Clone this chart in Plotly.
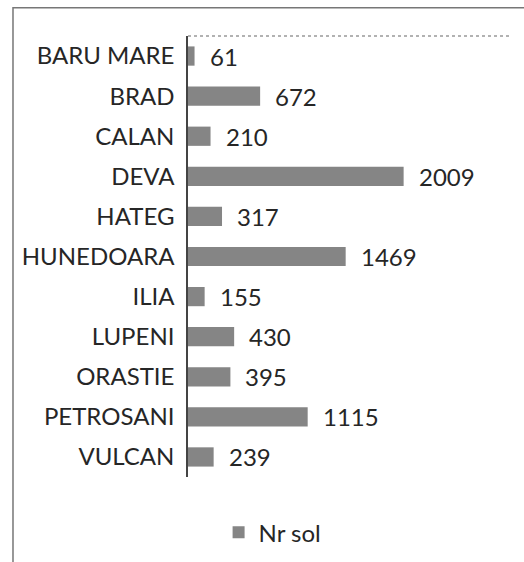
import plotly.graph_objects as go

categories = ["BARU MARE", "BRAD", "CALAN", "DEVA", "HATEG", "HUNEDOARA",
              "ILIA", "LUPENI", "ORASTIE", "PETROSANI", "VULCAN"]
values = [61, 672, 210, 2009, 317, 1469, 155, 430, 395, 1115, 239]
series_name = "Nr sol"

FONT = "Lato"
BAR_COLOR = "#858585"
TEXT_COLOR = "#262626"

fig = go.Figure()
fig.add_trace(go.Bar(
    x=values, y=categories, orientation="h", name=series_name,
    marker=dict(color=BAR_COLOR, line=dict(width=0)),
    showlegend=True,
))

for c, v in zip(categories, values):
    fig.add_annotation(x=v, y=c, text=str(v), showarrow=False,
                       xanchor="left", xshift=13,
                       font=dict(family=FONT, size=24, color=TEXT_COLOR))

# outer chart border
fig.add_shape(type="rect", xref="paper", yref="paper",
              x0=-0.5435, x1=1.3, y0=-0.3, y1=1.064,
              line=dict(color="#777777", width=1.5))
# plot area top border
fig.add_shape(type="line", xref="paper", yref="paper",
              x0=0, x1=1, y0=1, y1=1,
              line=dict(color="#999999", width=1.5, dash="dot"))

fig.update_layout(
    width=524, height=562,
    margin=dict(l=188, r=14, t=36, b=85, autoexpand=False),
    paper_bgcolor="white", plot_bgcolor="white",
    bargap=0.52,
    font=dict(family=FONT, size=24, color=TEXT_COLOR),
    xaxis=dict(range=[0, 3000], showticklabels=False, showgrid=False,
               zeroline=False, showline=False, ticks="", automargin=False),
    yaxis=dict(autorange="reversed", showline=True, linecolor="#444444",
               linewidth=1.5, ticks="", showgrid=False, ticklabelstandoff=7,
               automargin=False,
               tickfont=dict(family=FONT, size=24, color=TEXT_COLOR)),
    legend=dict(orientation="h", x=0.095, xanchor="left", y=-0.075,
                yanchor="top", font=dict(family=FONT, size=24, color=TEXT_COLOR),
                itemwidth=30),
)

fig.write_html("out.html", config={"displayModeBar": False},
               post_script="document.body.style.margin='0';document.body.style.padding='0';")
